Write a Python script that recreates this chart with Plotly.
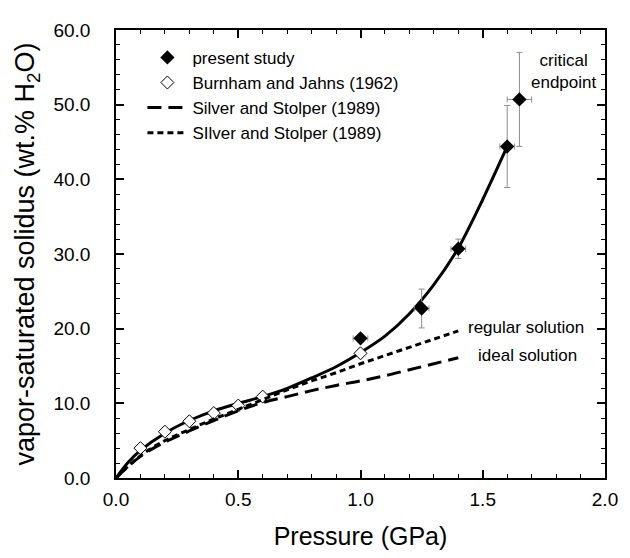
import plotly.graph_objects as go

# ── data ───────────────────────────────────────────────────────────────────
# present study (filled diamonds) with error bars
p_study = [1.00, 1.25, 1.40, 1.60, 1.65]
h2o_study = [18.7, 22.7, 30.7, 44.4, 50.7]
p_err = [0.03, 0.03, 0.03, 0.03, 0.05]
h2o_err = [0.5, 2.6, 1.3, 5.5, 6.3]

# Burnham and Jahns (1962), open diamonds
p_bj = [0.1, 0.2, 0.3, 0.4, 0.5, 0.6, 1.0]
h2o_bj = [4.0, 6.2, 7.6, 8.7, 9.7, 10.9, 16.7]

# fitted solidus through both data sets (solid line)
p_fit = [0.0, 0.05, 0.1, 0.2, 0.3, 0.4, 0.5, 0.6, 0.7, 0.8, 0.9, 1.0,
         1.1, 1.2, 1.3, 1.4, 1.5, 1.6]
h2o_fit = [0.0, 2.1, 3.7, 6.0, 7.7, 9.0, 10.0, 10.9, 12.0, 13.4, 14.9, 16.8,
           19.0, 22.0, 25.9, 30.8, 37.3, 44.4]

# Silver and Stolper (1989) models
p_model = [0.0, 0.1, 0.2, 0.3, 0.4, 0.5, 0.6, 0.7, 0.8, 0.9, 1.0, 1.1,
           1.2, 1.3, 1.4]
h2o_ideal = [0.0, 2.9, 4.8, 6.3, 7.7, 9.0, 10.1, 10.9, 11.7, 12.4, 13.0,
             13.7, 14.5, 15.3, 16.1]
h2o_regular = [0.0, 3.0, 5.0, 6.5, 7.9, 9.2, 10.5, 11.8, 13.0, 14.1, 15.3,
               16.4, 17.5, 18.6, 19.7]

FONT = "Liberation Sans, Arial, Helvetica, sans-serif"

fig = go.Figure()

fig.add_trace(go.Scatter(
    x=p_fit, y=h2o_fit, mode="lines", showlegend=False,
    line=dict(color="black", width=3, shape="spline", smoothing=0.8),
))
fig.add_trace(go.Scatter(
    x=p_study, y=h2o_study, mode="markers", name="present study",
    marker=dict(symbol="diamond", size=11, color="black"),
    error_x=dict(type="data", array=p_err, color="#8c8c8c", thickness=1, width=3),
    error_y=dict(type="data", array=h2o_err, color="#8c8c8c", thickness=1, width=3),
))
fig.add_trace(go.Scatter(
    x=p_bj, y=h2o_bj, mode="markers", name="Burnham and Jahns (1962)",
    marker=dict(symbol="diamond", size=10, color="white",
                line=dict(color="black", width=1)),
))
fig.add_trace(go.Scatter(
    x=p_model, y=h2o_ideal, mode="lines", name="Silver and Stolper (1989)",
    line=dict(color="black", width=3, dash="14px,7px", shape="spline"),
))
fig.add_trace(go.Scatter(
    x=p_model, y=h2o_regular, mode="lines", name="SIlver and Stolper (1989)",
    line=dict(color="black", width=3, dash="6px,4px", shape="spline"),
))
# invisible trace so the mirrored top/right axes get drawn
fig.add_trace(go.Scatter(
    x=p_study, y=h2o_study, xaxis="x2", yaxis="y2", mode="markers",
    marker=dict(opacity=0), showlegend=False, hoverinfo="skip",
))

tick_common = dict(
    showline=True, linecolor="black", linewidth=1.5,
    ticks="inside", ticklen=8, tickwidth=1.5, tickcolor="black",
    showgrid=False, zeroline=False,
    tickfont=dict(family=FONT, size=19, color="black"),
    minor=dict(ticks="inside", ticklen=4, tickwidth=1, tickcolor="black",
               showgrid=False),
)
x_common = dict(tick_common, range=[0, 2.0], dtick=0.5, tickformat=".1f",
                minor_dtick=0.1)
y_common = dict(tick_common, range=[0, 60], dtick=10, tickformat=".1f",
                minor_dtick=2)

# the page body adds an 8px offset, so the figure is 8px smaller than the window
fig.update_layout(
    width=622, height=550,
    margin=dict(l=108, r=16, t=18, b=72),
    paper_bgcolor="white", plot_bgcolor="white",
    font=dict(family=FONT, color="black"),
    xaxis=dict(
        x_common, ticklabelstandoff=3,
        title=dict(text="Pressure (GPa)", font=dict(size=25), standoff=19),
    ),
    yaxis=dict(
        y_common, ticklabelstandoff=20,
        title=dict(text="vapor-saturated solidus (wt.% H<sub>2</sub>O)",
                   font=dict(size=27), standoff=11),
    ),
    xaxis2=dict(x_common, overlaying="x", side="top", showticklabels=False),
    yaxis2=dict(y_common, overlaying="y", side="right", showticklabels=False),
    legend=dict(
        x=0.054, y=0.978, xanchor="left", yanchor="top",
        bgcolor="rgba(0,0,0,0)", font=dict(family=FONT, size=17),
        itemwidth=40, tracegroupgap=0,
    ),
    annotations=[
        dict(x=1.834, y=54.5, xref="x", yref="y", showarrow=False,
             text="critical<br>endpoint", font=dict(size=17), align="center"),
        dict(x=1.922, y=20.1, xref="x", yref="y", showarrow=False,
             text="regular solution", font=dict(size=17), xanchor="right"),
        dict(x=1.894, y=16.4, xref="x", yref="y", showarrow=False,
             text="ideal solution", font=dict(size=17), xanchor="right"),
    ],
)

fig.write_html("out.html")
